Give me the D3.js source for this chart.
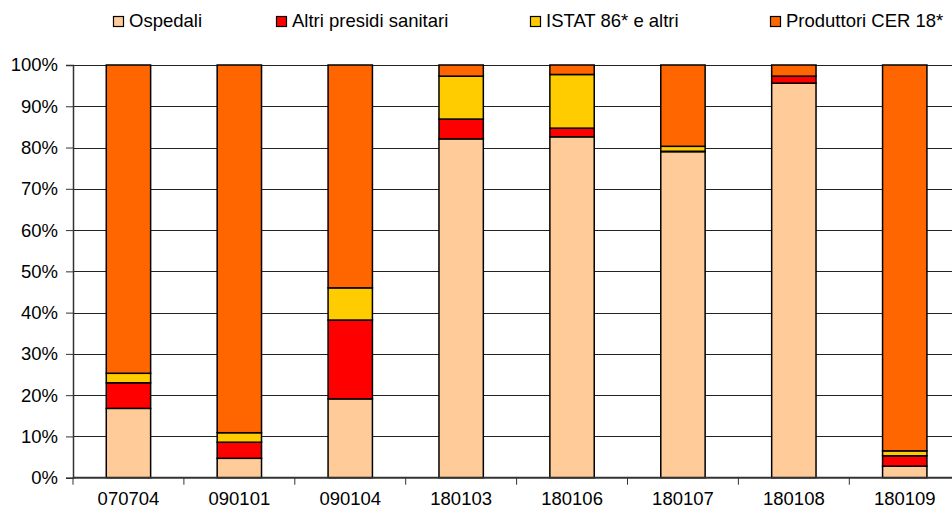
<!DOCTYPE html>
<html>
<head>
<meta charset="utf-8">
<script src="https://cdn.jsdelivr.net/npm/d3@7"></script>
<style>
  html, body { margin: 0; padding: 0; background: #fff; }
  svg { display: block; }
  text { font-family: "Liberation Sans", Arial, sans-serif; fill: #000; }
</style>
</head>
<body>
<svg id="chart" width="952" height="514"></svg>
<script>
const categories = ["070704", "090101", "090104", "180103", "180106", "180107", "180108", "180109"];
const seriesNames = ["Ospedali", "Altri presidi sanitari", "ISTAT 86* e altri", "Produttori CER 18*"];
const ospedali   = [16.8, 4.7, 19.1, 82.1, 82.6, 79.0, 95.6, 2.8];
const altri      = [6.2, 3.9, 19.1, 4.8, 2.1, 0.1, 1.7, 2.5];
const istat      = [2.3, 2.3, 7.8, 10.4, 13.0, 1.2, 0.0, 1.2];
const produttori = [74.7, 89.1, 54.0, 2.7, 2.3, 19.7, 2.7, 93.5];
const yTicks = [0, 10, 20, 30, 40, 50, 60, 70, 80, 90, 100];
const colors = ["#FFCC99", "#FF0000", "#FFCC00", "#FF6600"];

const seriesValues = [ospedali, altri, istat, produttori];
const table = categories.map((c, i) => {
  const row = { cat: c };
  seriesNames.forEach((s, j) => row[s] = seriesValues[j][i]);
  return row;
});

const svg = d3.select("#chart");
const plotLeft = 73, plotTop = 65, plotBottom = 477.7;
const step = 110.9;
const plotRight = plotLeft + step * categories.length;

const x = d3.scaleBand().domain(categories).range([plotLeft, plotRight]).paddingInner(0.6).paddingOuter(0.3);
const y = d3.scaleLinear().domain([0, 100]).range([plotBottom, plotTop]);

// grid
svg.append("g").selectAll("line").data(yTicks.filter(t => t > 0)).join("line")
  .attr("x1", plotLeft).attr("x2", plotRight)
  .attr("y1", d => Math.round(y(d)) + 0.5).attr("y2", d => Math.round(y(d)) + 0.5)
  .attr("stroke", "#222").attr("stroke-width", 1);

// bars
const stack = d3.stack().keys(seriesNames)(table);
svg.append("g").selectAll("g").data(stack).join("g")
  .attr("fill", (d, i) => colors[i])
  .selectAll("rect").data(d => d).join("rect")
  .attr("x", d => x(d.data.cat))
  .attr("width", x.bandwidth())
  .attr("y", d => y(d[1]))
  .attr("height", d => Math.max(0, y(d[0]) - y(d[1])))
  .attr("stroke", "#000").attr("stroke-width", 1.5);

// y axis
const yAxis = d3.axisLeft(y).tickValues(yTicks).tickFormat(d => d + "%").tickSize(7).tickPadding(8);
const gy = svg.append("g").attr("transform", `translate(${plotLeft},0)`).call(yAxis);
gy.select(".domain").attr("stroke", "#333").attr("stroke-width", 1.5);
gy.selectAll(".tick line").attr("stroke", "#333");
gy.selectAll("text").style("font-size", "18.5px").attr("font-family", null);

// x axis
const xAxis = d3.axisBottom(x).tickSize(0).tickPadding(14);
const gx = svg.append("g").attr("transform", `translate(0,${plotBottom})`).call(xAxis);
gx.select(".domain").attr("d", `M${plotLeft},0H${plotRight}`).attr("stroke", "#333").attr("stroke-width", 2);
gx.selectAll("text").style("font-size", "18.5px").attr("font-family", null);
// separator ticks between categories
gx.append("g").selectAll("line").data(d3.range(categories.length + 1)).join("line")
  .attr("x1", i => plotLeft + i * step).attr("x2", i => plotLeft + i * step)
  .attr("y1", 0).attr("y2", 7).attr("stroke", "#333");

// legend
const legendX = [113, 276, 530, 770];
const lg = svg.append("g").selectAll("g").data(seriesNames).join("g")
  .attr("transform", (d, i) => `translate(${legendX[i]},16)`);
lg.append("rect").attr("x", 0.5).attr("y", 0.5).attr("width", 10).attr("height", 10)
  .attr("fill", (d, i) => colors[i]).attr("stroke", "#000").attr("stroke-width", 1.2);
lg.append("text").attr("x", 16).attr("y", 11).style("font-size", "18.5px").text(d => d);
</script>
</body>
</html>
